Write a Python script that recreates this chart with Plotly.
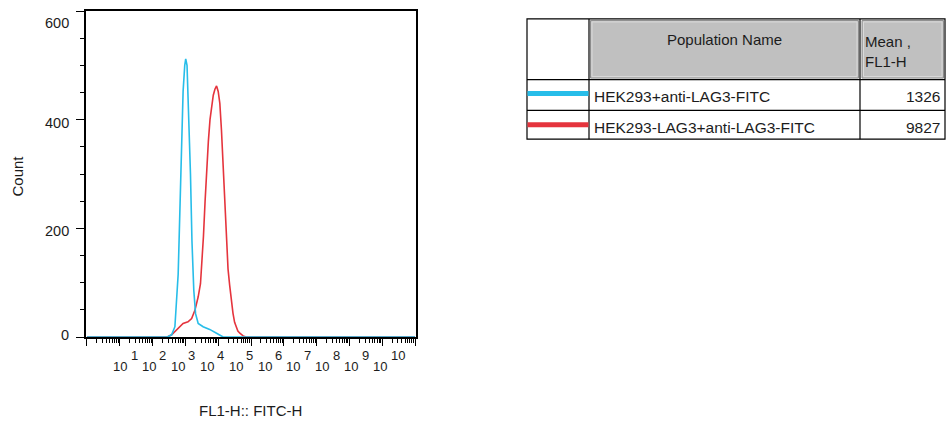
import numpy as np
import plotly.graph_objects as go

# ---------------- data ----------------
populations = ["HEK293+anti-LAG3-FITC", "HEK293-LAG3+anti-LAG3-FITC"]
mean_fl1 = ["1326", "9827"]
series_colors = ["#27bde9", "#e5343d"]

cyan_log10_fl1 = [0.0, 2.45, 2.58, 2.68, 2.78, 2.83, 2.88, 2.93, 2.98, 3.01, 3.05, 3.10,
                  3.155, 3.20, 3.256, 3.31, 3.39, 3.54, 3.74, 3.95, 4.05, 4.15, 10.0]
cyan_count = [0, 0, 4, 19, 116, 238, 360, 452, 500, 512, 500, 421,
              299, 177, 86, 43, 25, 19, 14, 7, 4, 0, 0]

red_log10_fl1 = [0.0, 2.45, 2.58, 2.78, 2.93, 3.08, 3.19, 3.29, 3.39, 3.46, 3.50, 3.55,
                 3.60, 3.65, 3.70, 3.75, 3.80, 3.85, 3.90, 3.95, 4.00, 4.05, 4.10, 4.15,
                 4.20, 4.25, 4.30, 4.35, 4.40, 4.45, 4.50, 4.55, 4.60, 4.66, 4.76, 4.85, 10.0]
red_count = [0, 0, 4, 16, 25, 28, 34, 49, 74, 98, 130, 185,
             250, 310, 360, 400, 425, 445, 456, 462, 452, 430, 380, 315,
             240, 175, 125, 95, 68, 44, 27, 17, 11, 7, 2, 0, 0]

x_exponents = ["1", "2", "3", "4", "5", "6", "7", "8", "9", "10"]
y_tick_values = [0, 200, 400, 600]
y_tick_labels = ["0", "200", "400", "600"]

x_title = "FL1-H:: FITC-H"
y_title = "Count"
header_name = "Population Name"
header_mean = "Mean ,<br>FL1-H"

# ---------------- layout geometry (page pixels) ----------------
W, H = 947, 423
L, R, T, B = 86, 416, 9, 337
PW, PH = R - L, B - T


def px(x):
    return (x - L) / PW


def py(y):
    return (B - y) / PH


FONT = "Liberation Sans, Arial, sans-serif"
TXT = "#1c1c1c"

fig = go.Figure()
fig.add_trace(go.Scatter(x=np.power(10.0, red_log10_fl1), y=red_count, mode="lines",
                         line=dict(color=series_colors[1], width=1.6), name=populations[1],
                         hoverinfo="skip"))
fig.add_trace(go.Scatter(x=np.power(10.0, cyan_log10_fl1), y=cyan_count, mode="lines",
                         line=dict(color=series_colors[0], width=1.6), name=populations[0],
                         hoverinfo="skip"))

major_x = [10.0 ** k for k in range(0, 11)]
minor_x = [m * 10.0 ** k for k in range(0, 10) for m in range(2, 10)]

fig.update_xaxes(type="log", range=[-0.03, 10.03], showgrid=False, zeroline=False,
                 showline=True, linecolor="black", linewidth=2, mirror=True,
                 tickmode="array", tickvals=major_x, ticks="outside", ticklen=7,
                 tickwidth=1, tickcolor="black", showticklabels=False,
                 minor=dict(tickmode="array", tickvals=minor_x, ticks="outside",
                            ticklen=4, tickwidth=1, tickcolor="black", showgrid=False))
fig.update_yaxes(range=[0, 600], showgrid=False, zeroline=False,
                 showline=True, linecolor="black", linewidth=2, mirror=True,
                 tickmode="array", tickvals=y_tick_values, ticks="outside", ticklen=8,
                 tickwidth=1, tickcolor="black", showticklabels=False,
                 minor=dict(dtick=50, ticks="outside", ticklen=4, tickwidth=1,
                            tickcolor="black", showgrid=False))

ann = []
# x tick labels (10 with superscript exponent)
for i, e in enumerate(x_exponents):
    cx = 120 + i * 28.9
    ann.append(dict(x=px(cx), y=py(367), xref="paper", yref="paper", text="10",
                    showarrow=False, xanchor="center", yanchor="middle",
                    font=dict(family=FONT, size=13, color=TXT)))
    ann.append(dict(x=px(cx + 8.5), y=py(355.5), xref="paper", yref="paper", text=e,
                    showarrow=False, xanchor="left", yanchor="middle",
                    font=dict(family=FONT, size=13, color=TXT)))
# y tick labels
y_label_px = [335, 230, 122, 21]
for lab, yy in zip(y_tick_labels, y_label_px):
    ann.append(dict(x=px(71), y=py(yy), xref="paper", yref="paper", text=lab,
                    showarrow=False, xanchor="right", yanchor="middle",
                    font=dict(family=FONT, size=14.5, color=TXT)))
# axis titles
ann.append(dict(x=px(250), y=py(411), xref="paper", yref="paper", text=x_title,
                showarrow=False, xanchor="center", yanchor="middle",
                font=dict(family=FONT, size=15, color=TXT)))
ann.append(dict(x=px(17.5), y=py(175), xref="paper", yref="paper", text=y_title,
                showarrow=False, xanchor="center", yanchor="middle", textangle=-90,
                font=dict(family=FONT, size=15, color=TXT)))

# ---------------- table (legend) ----------------
shapes = []
TL, TR, TT, TB = 527, 945, 17, 138
C1, C2 = 589, 860
RH, R1 = 78, 109


def rect(x0, y0, x1, y1, **kw):
    return dict(type="rect", xref="paper", yref="paper",
                x0=px(x0), x1=px(x1), y0=py(y1), y1=py(y0), **kw)


def hline(x0, x1, y, color="black", width=1.2):
    return dict(type="line", xref="paper", yref="paper", x0=px(x0), x1=px(x1),
                y0=py(y), y1=py(y), line=dict(color=color, width=width))


def vline(x, y0, y1, color="black", width=1.2):
    return dict(type="line", xref="paper", yref="paper", x0=px(x), x1=px(x),
                y0=py(y0), y1=py(y1), line=dict(color=color, width=width))


# header gray cells
shapes.append(rect(C1 + 1.5, TT + 1.5, C2 - 1.5, RH - 1.5, fillcolor="#c0c0c0",
                   line=dict(color="#8c8c8c", width=1)))
shapes.append(rect(C1 + 3, TT + 3, C2 - 3, RH - 3, fillcolor="rgba(0,0,0,0)",
                   line=dict(color="#dadada", width=1)))
shapes.append(rect(C2 + 2, TT + 1.5, TR - 1.5, RH - 1.5, fillcolor="#c0c0c0",
                   line=dict(color="#8c8c8c", width=1)))
shapes.append(rect(C2 + 3.5, TT + 3, TR - 3, RH - 3, fillcolor="rgba(0,0,0,0)",
                   line=dict(color="#dadada", width=1)))
# grid lines
shapes.append(rect(TL, TT, TR, TB, fillcolor="rgba(0,0,0,0)",
                   line=dict(color="black", width=1.2)))
shapes.append(vline(C1, TT, TB))
shapes.append(vline(C2, TT, TB))
shapes.append(hline(TL, TR, RH))
shapes.append(hline(TL, TR, R1))
# legend swatches
for yy, col in zip([92, 123.5], series_colors):
    shapes.append(hline(TL + 0.5, C1 - 0.5, yy, color=col, width=5))

ann.append(dict(x=px((C1 + C2) / 2), y=py(38), xref="paper", yref="paper",
                text=header_name, showarrow=False, xanchor="center", yanchor="middle",
                font=dict(family=FONT, size=15, color=TXT)))
ann.append(dict(x=px(863), y=py(49.5), xref="paper", yref="paper",
                text=header_mean, showarrow=False, xanchor="left", yanchor="middle",
                align="left", font=dict(family=FONT, size=15, color=TXT)))
for yy, name, val in zip([95, 126], populations, mean_fl1):
    ann.append(dict(x=px(592), y=py(yy), xref="paper", yref="paper", text=name,
                    showarrow=False, xanchor="left", yanchor="middle",
                    font=dict(family=FONT, size=15.5, color=TXT)))
    ann.append(dict(x=px(942), y=py(yy), xref="paper", yref="paper", text=val,
                    showarrow=False, xanchor="right", yanchor="middle",
                    font=dict(family=FONT, size=15.5, color=TXT)))

fig.update_layout(width=W, height=H, autosize=False,
                  margin=dict(l=L, r=W - R, t=T, b=H - B, pad=0),
                  paper_bgcolor="white", plot_bgcolor="white", showlegend=False,
                  annotations=ann, shapes=shapes)

# remove the default 8px body margin so the figure fills the 947x423 window exactly
fig.write_html("out.html",
               config={"displayModeBar": False},
               post_script="document.body.style.margin='0px';"
                           "document.body.style.overflow='hidden';")
